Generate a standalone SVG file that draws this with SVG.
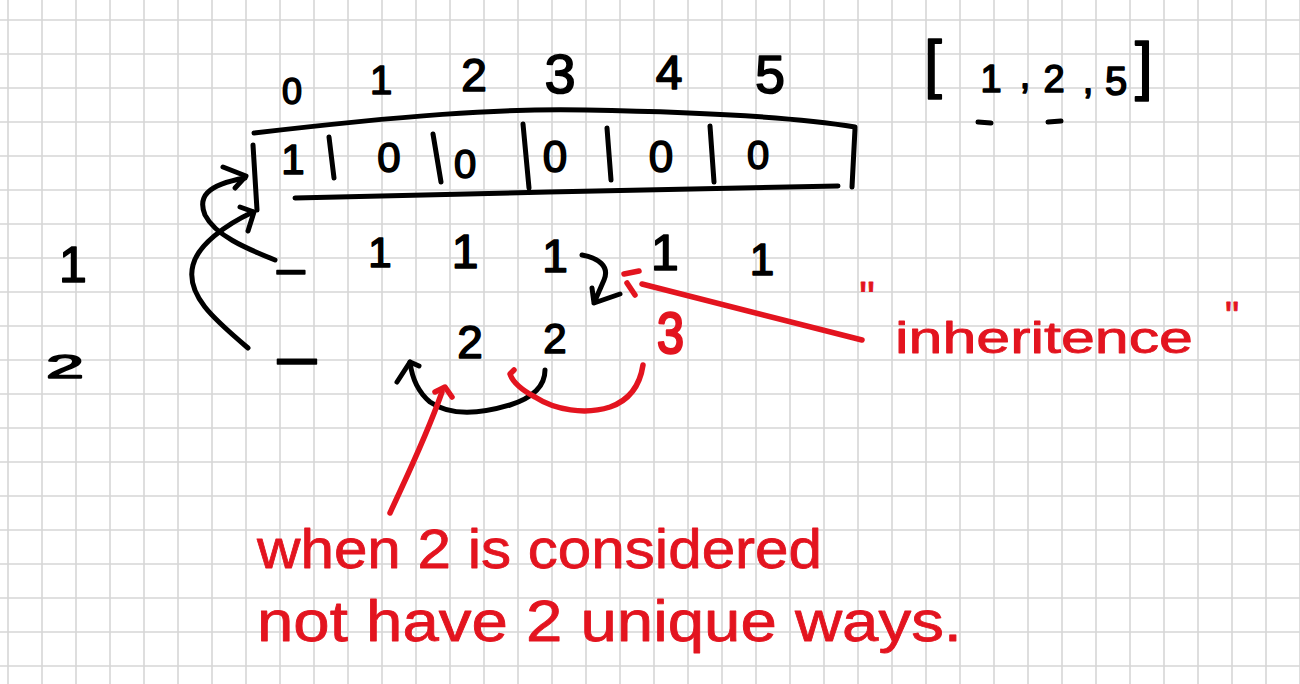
<svg xmlns="http://www.w3.org/2000/svg" width="1300" height="684" viewBox="0 0 1300 684">
<defs>
<pattern id="grid" patternUnits="userSpaceOnUse" x="-9" y="3" width="34" height="34">
<path d="M17,0 V34 M0,17 H34" stroke="#d6d6d6" stroke-width="1.6" fill="none"/>
</pattern>
<style>
.ink{fill:none;stroke:#000;stroke-width:5;stroke-linecap:round;stroke-linejoin:round}
.red{fill:none;stroke:#e3141f;stroke-width:5.5;stroke-linecap:round;stroke-linejoin:round}
.t{font-family:"Liberation Sans",Arial,sans-serif;fill:#000;stroke:#000;stroke-width:1.6;stroke-linejoin:round;text-anchor:middle}
.tr{font-family:"Liberation Sans",Arial,sans-serif;fill:#e3141f;stroke:#e3141f;stroke-width:0.8;stroke-linejoin:round}
</style>
</defs>
<rect width="1300" height="684" fill="#fff"/>
<rect width="1300" height="684" fill="url(#grid)"/>

<g id="indices">
<text class="t" x="292" y="104" font-size="36">0</text>
<text class="t" x="381" y="94" font-size="40">1</text>
<text class="t" x="474" y="91" font-size="46">2</text>
<text class="t" x="560" y="93" font-size="56">3</text>
<text class="t" x="669" y="89" font-size="48">4</text>
<text class="t" x="770" y="93" font-size="54">5</text>
</g>

<g id="array">
<path class="ink" d="M254,133 C400,116 500,108 586,110 C700,112 800,118 855,127"/>
<path class="ink" d="M855,129 L852,187"/>
<path class="ink" d="M253,145 L257,210"/>
<path class="ink" d="M295,198 C450,193 700,190 838,186"/>
<path class="ink" d="M329,137 L334,178 M433,134 L441,182 M523,124 L529,188 M607,128 L611,180 M710,126 L714,182"/>
<text class="t" x="293" y="174" font-size="42">1</text>
<text class="t" x="389" y="172" font-size="42">0</text>
<text class="t" x="465" y="178" font-size="40">0</text>
<text class="t" x="555" y="172" font-size="44">0</text>
<text class="t" x="661" y="172" font-size="44">0</text>
<text class="t" x="758" y="169" font-size="40">0</text>
</g>

<g id="row-labels">
<text class="t" x="73" y="282" font-size="50">1</text>
<text class="t" x="65" y="378" font-size="34" text-anchor="start" textLength="38" lengthAdjust="spacingAndGlyphs">2</text>
</g>

<g id="row1">
<text class="t" x="291" y="285" font-size="50">–</text>
<text class="t" x="380" y="267" font-size="42">1</text>
<text class="t" x="465" y="268" font-size="48">1</text>
<text class="t" x="555" y="272" font-size="46">1</text>
<text class="t" x="665" y="270" font-size="50">1</text>
<text class="t" x="762" y="275" font-size="44">1</text>
</g>

<g id="row2">
<text class="t" x="297" y="380" font-size="70">–</text>
<text class="t" x="470" y="358" font-size="46">2</text>
<text class="t" x="555" y="353" font-size="42">2</text>
<text class="tr" x="657" y="353" font-size="58" style="stroke-width:2.6" textLength="27" lengthAdjust="spacingAndGlyphs">3</text>
</g>

<g id="coins">
<text class="t" x="933" y="86" font-size="64" text-anchor="start">[</text>
<text class="t" x="991" y="92" font-size="38">1</text>
<text class="t" x="1025" y="88" font-size="38">,</text>
<text class="t" x="1054" y="92" font-size="38">2</text>
<text class="t" x="1088" y="93" font-size="38">,</text>
<text class="t" x="1116" y="95" font-size="40">5</text>
<text class="t" x="1144" y="88" font-size="64" text-anchor="start">]</text>
<path class="ink" d="M978,122 L991,123 M1048,122 L1061,121"/>
</g>

<g id="connectors">
<path class="ink" d="M275,260 C245,248 215,235 205,215 C198,198 205,185 245,178"/>
<path class="ink" d="M223,167 L246,176 L235,188"/>
<path class="ink" d="M248,348 C215,320 185,295 193,265 C198,245 225,225 253,212"/>
<path class="ink" d="M240,207 L254,212 L248,231"/>
<path class="ink" d="M582,255 C598,258 610,266 604,280 L594,303 L620,294 M592,288 L594,303"/>
<path class="ink" d="M545,370 C545,385 535,397 510,405 C480,414 450,416 430,402 C418,392 412,378 410,362"/>
<path class="ink" d="M397,382 L410,362 L419,366"/>
<path class="red" d="M643,365 C640,385 630,400 610,407 C585,415 555,410 535,397 C522,390 513,383 510,374 L514,370"/>
<path class="red" d="M390,513 C405,480 425,440 442,392"/>
<path class="red" d="M435,392 L445,387 L452,397"/>
<path class="red" d="M624,274 L639,271 M627,283 L635,295"/>
<path class="red" d="M642,284 L862,340"/>
</g>

<g id="annotations">
<text class="tr" x="867" y="313" font-size="44" text-anchor="middle">"</text>
<text class="tr" x="895" y="353" font-size="44" textLength="298" lengthAdjust="spacingAndGlyphs">inheritence</text>
<text class="tr" x="1232" y="330" font-size="40" text-anchor="middle">"</text>
<text class="tr" x="257" y="568" font-size="56" textLength="565" lengthAdjust="spacingAndGlyphs">when 2 is considered</text>
<text class="tr" x="257" y="641" font-size="58" textLength="705" lengthAdjust="spacingAndGlyphs">not have 2 unique ways.</text>
</g>
</svg>
